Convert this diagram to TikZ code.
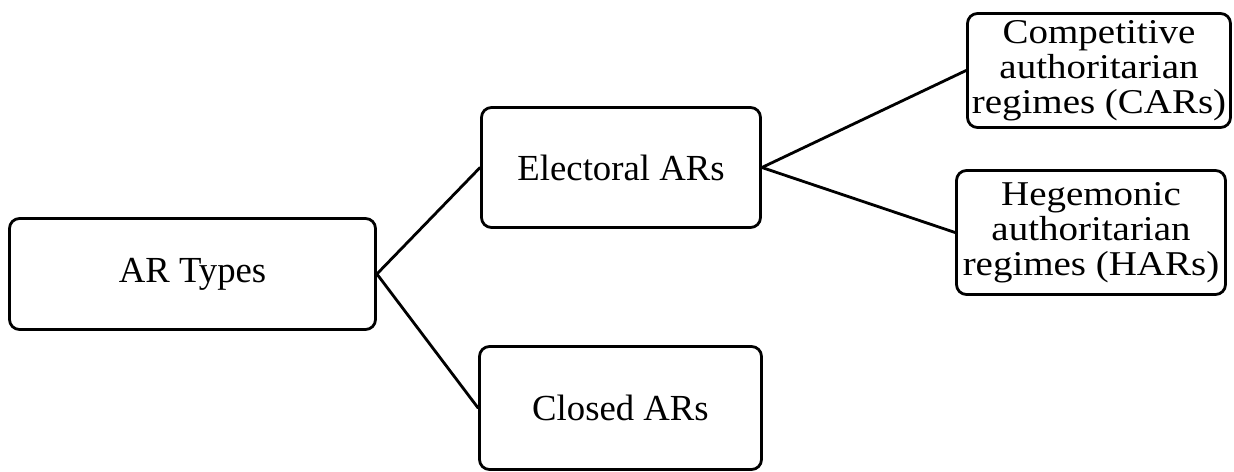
\documentclass[tikz,border=0pt]{standalone}
\usepackage{fontspec}
\setmainfont{Liberation Serif}
\newfontfamily\widefont[FakeStretch=1.12]{Liberation Serif}
\usepackage{tikz}

\begin{document}
\begin{tikzpicture}[
						typebox/.style={draw, line width=1.6pt, rounded corners=0.2cm,
							align=center, inner sep=0pt,
							font=\fontsize{20.9}{23}\selectfont},
						subbox/.style={typebox, font=\widefont\fontsize{19.8}{20}\selectfont},
						link/.style={line width=1.6pt},
						line cap=round,
						line join=round
						]
						
						% Page size
						\useasboundingbox (0,0) rectangle (24.68,9.44);
						
						% Root
						\node[typebox, minimum width=7.32cm, minimum height=2.22cm] (artypes) at (3.85,3.96) {AR Types};
						
						% Second level
						\node[typebox, minimum width=5.58cm, minimum height=2.40cm] (electoral) at (12.42,6.09) {Electoral ARs};
						\node[typebox, minimum width=5.64cm, minimum height=2.46cm] (closed) at (12.41,1.28) {Closed ARs};
						
						% Third level
						\node[subbox, minimum width=5.26cm, minimum height=2.28cm] (car) at (21.98,8.03) {Competitive\\authoritarian\\regimes (CARs)};
						\node[subbox, minimum width=5.38cm, minimum height=2.48cm] (har) at (21.82,4.79) {Hegemonic\\authoritarian\\regimes (HARs)};
						
						% Links
						\draw[link] (artypes.east) -- (electoral.west);
						\draw[link] (artypes.east) -- (closed.west);
						\draw[link] (electoral.east) -- (car.west);
						\draw[link] (electoral.east) -- (har.west);
						
					\end{tikzpicture}
\end{document}
